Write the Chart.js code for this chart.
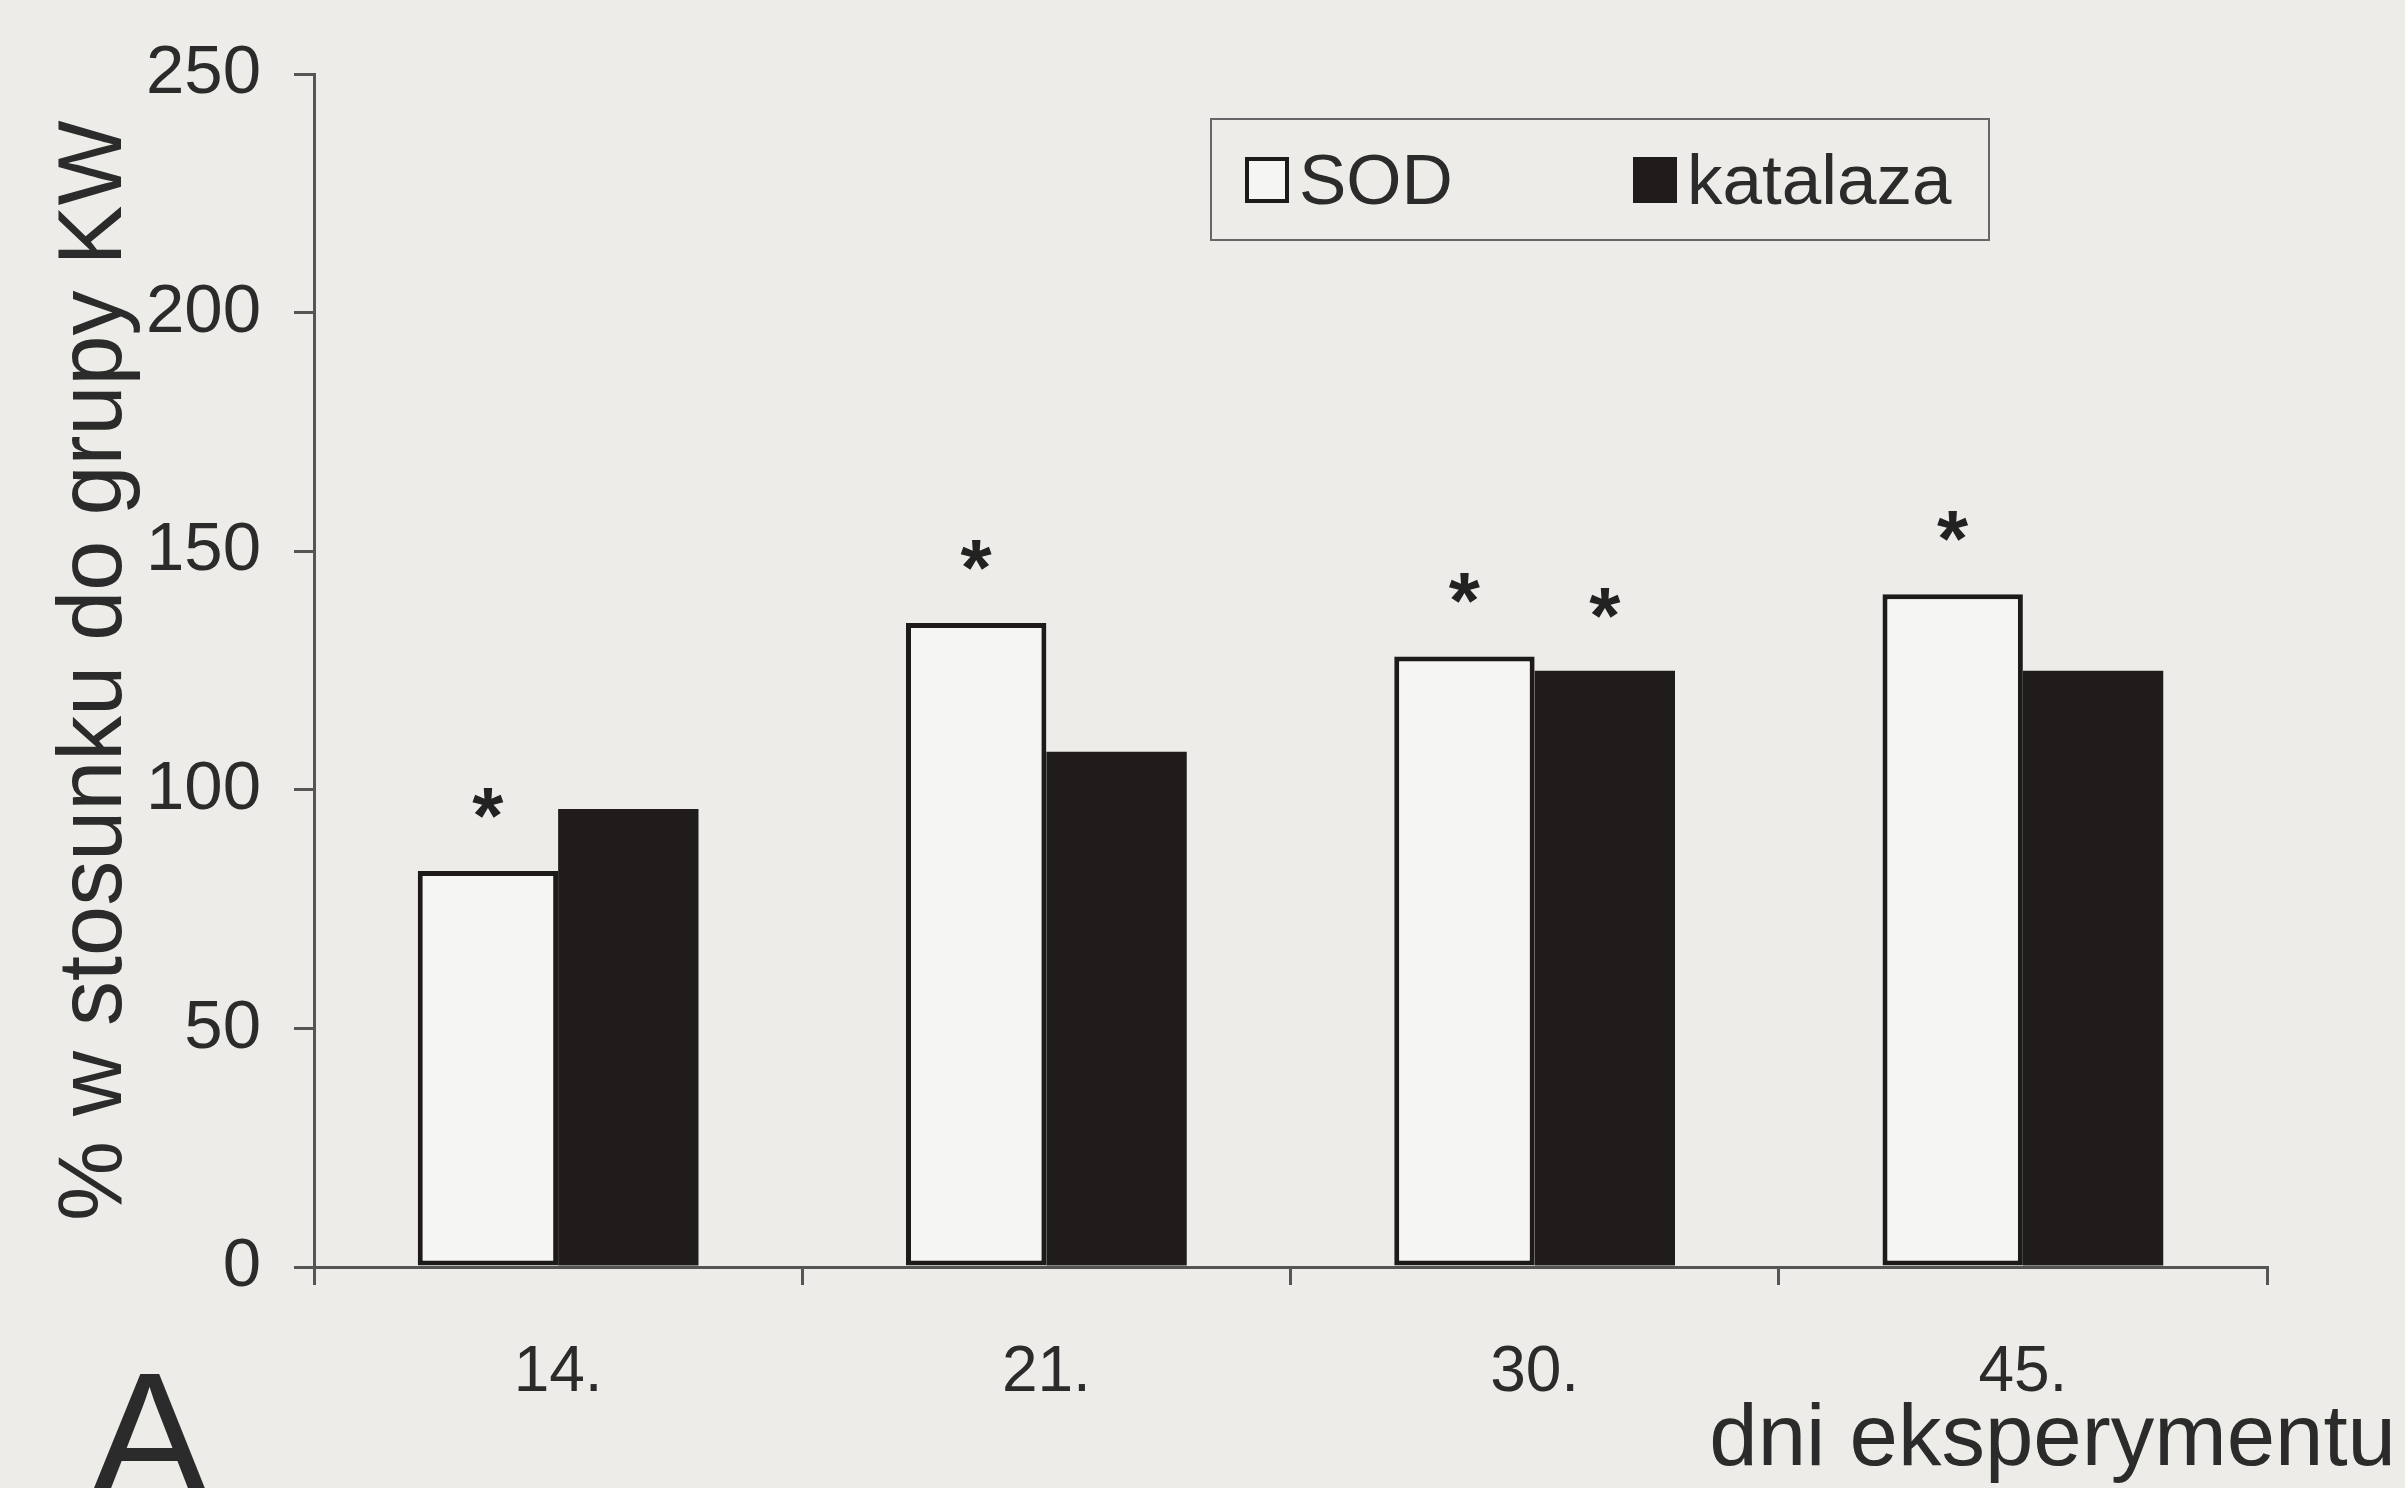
<!DOCTYPE html>
<html>
<head>
<meta charset="utf-8">
<script src="https://cdn.jsdelivr.net/npm/chart.js@4.4.1/dist/chart.umd.min.js"></script>
<style>
    body { margin: 0; background: #edece8; overflow: hidden; }
    #wrap { position: relative; width: 2405px; height: 1488px; font-family: "Liberation Sans", Arial, sans-serif; color: #2b2b2b; }
    #chart { position: absolute; left: 0; top: 0; }
    #legend { position: absolute; left: 1210px; top: 118px; width: 780px; height: 123px; box-sizing: border-box; border: 2px solid #666; }
    .item { position: absolute; top: 0; height: 119px; display: flex; align-items: center; font-size: 71px; }
    .box { width: 44px; height: 46px; box-sizing: border-box; margin-right: 10px; }
    #xTitle { position: absolute; right: 9px; top: 1391px; font-size: 87px; line-height: 1; white-space: nowrap; }
    #panel { position: absolute; left: 90px; top: 1347px; font-size: 178px; line-height: 1; }
</style>
</head>
<body>
<div id="wrap">
    <canvas id="chart" width="2405" height="1488"></canvas>
    <div id="legend"></div>
    <div id="xTitle">dni eksperymentu</div>
    <div id="panel">A</div>
</div>
<script>
// data
var days = ['14.', '21.', '30.', '45.'];
var sodValues = [83, 135, 128, 141];
var katalazaValues = [96, 108, 125, 125];
// significance markers (*)
var sodStars = [true, true, true, true];
var katalazaStars = [false, false, true, false];
var yTicks = [0, 50, 100, 150, 200, 250];

var fontFamily = '"Liberation Sans", Arial, sans-serif';
var textColor = '#2b2b2b';
var axisColor = '#555';

// asterisks above bars
var starPlugin = {
    id: 'stars',
    afterDatasetsDraw: function(chart) {
        var ctx = chart.ctx;
        var stars = [sodStars, katalazaStars];
        ctx.save();
        ctx.fillStyle = '#222';
        ctx.font = 'bold 80px ' + fontFamily;
        ctx.textAlign = 'center';
        ctx.textBaseline = 'alphabetic';
        for (var i = 0; i < stars.length; i++) {
            var meta = chart.getDatasetMeta(i);
            for (var j = 0; j < meta.data.length; j++) {
                if (stars[i][j]) {
                    var bar = meta.data[j];
                    ctx.fillText('*', bar.x, bar.y - 28);
                }
            }
        }
        ctx.restore();
    }
};

var chart = new Chart(document.getElementById('chart'), {
    type: 'bar',
    data: {
        labels: days,
        datasets: [
            {
                label: 'SOD',
                data: sodValues,
                backgroundColor: '#f5f5f3',
                borderColor: '#1e1a19',
                borderWidth: 5,
                borderSkipped: false
            },
            {
                label: 'katalaza',
                data: katalazaValues,
                backgroundColor: '#201c1b',
                borderWidth: 0
            }
        ]
    },
    options: {
        responsive: false,
        animation: false,
        layout: { padding: { top: 71, right: 138, left: 0, bottom: 0 } },
        datasets: { bar: { categoryPercentage: 0.575, barPercentage: 1.0 } },
        plugins: {
            legend: { display: false },
            tooltip: { enabled: false }
        },
        scales: {
            x: {
                offset: true,
                grid: { offset: true, drawOnChartArea: false, color: axisColor, lineWidth: 3, tickLength: 18 },
                border: { color: axisColor, width: 3 },
                ticks: { color: textColor, font: { family: fontFamily, size: 64 }, padding: 50 },
                afterFit: function(scale) { scale.height = 221; }
            },
            y: {
                min: 0,
                max: 250,
                afterBuildTicks: function(scale) {
                    scale.ticks = yTicks.map(function(v) { return { value: v }; });
                },
                grid: { drawOnChartArea: false, color: axisColor, lineWidth: 3, tickLength: 20 },
                border: { color: axisColor, width: 3 },
                ticks: { color: textColor, font: { family: fontFamily, size: 69 }, padding: 33 },
                title: {
                    display: true,
                    text: '% w stosunku do grupy KW',
                    color: textColor,
                    font: { family: fontFamily, size: 90 },
                    padding: { top: 42, bottom: 0 }
                },
                afterFit: function(scale) { scale.width = 314; }
            }
        }
    },
    plugins: [starPlugin]
});

// legend built from the datasets
var legend = document.getElementById('legend');
var offsets = [33, 421];
chart.data.datasets.forEach(function(ds, i) {
    var item = document.createElement('div');
    item.className = 'item';
    item.style.left = offsets[i] + 'px';
    var box = document.createElement('div');
    box.className = 'box';
    box.style.background = ds.backgroundColor;
    box.style.border = ds.borderWidth ? '4px solid ' + ds.borderColor : 'none';
    var txt = document.createElement('span');
    txt.textContent = ds.label;
    item.appendChild(box);
    item.appendChild(txt);
    legend.appendChild(item);
});
</script>
</body>
</html>
